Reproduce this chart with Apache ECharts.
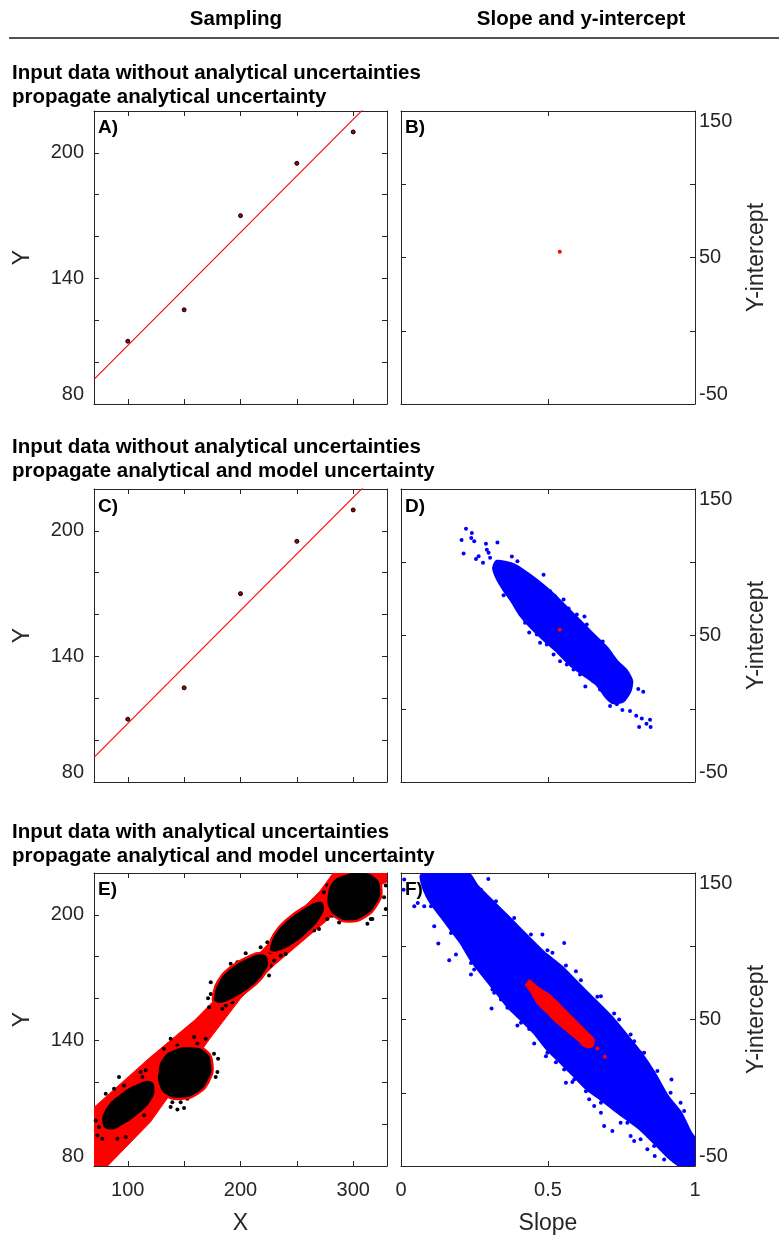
<!DOCTYPE html>
<html>
<head>
<meta charset="utf-8">
<title>Sampling / slope and y-intercept</title>
<script src="https://cdn.jsdelivr.net/npm/echarts@6/dist/echarts.min.js"></script>
<style>
html, body { margin: 0; padding: 0; background: #fff; }
#chart { width: 779px; height: 1242px; }
</style>
</head>
<body>
<div id="chart"></div>
<script>
// ---- ticks ----
var xTicks = [100, 150, 200, 250, 300];
var xTickLabels = [100, 200, 300];
var yTickLabels = [80, 140, 200];
var interceptTickLabels = [-50, 50, 150];

// ---- input data (X, Y) ----
var sampleX = [100, 150, 200, 250, 300];
var sampleY = [110, 125, 170, 195, 210];
// least squares line, slope 0.54 / intercept 54
var fitLine = [[70, 91.8], [330, 232.2]];
var bestFit = [[0.54, 54]];

// ---- panel D: slope / intercept cloud ----
var cloudD = [[0.326, 100.7], [0.383, 98.4], [0.428, 92.7], [0.473, 85.9], [0.519, 77.9], [0.564, 68.9],
    [0.609, 59.8], [0.654, 50.7], [0.700, 41.6], [0.734, 32.5], [0.768, 25.7], [0.785, 18.8], [0.779, 12],
    [0.756, 5.2], [0.722, 4.1], [0.700, 7.5], [0.666, 16.6], [0.620, 23.4], [0.575, 30.2], [0.530, 39.3],
    [0.485, 47.3], [0.439, 56.3], [0.405, 64.3], [0.377, 73.4], [0.349, 81.4], [0.326, 89.3], [0.315, 96.1]];
var outliersD = [[0.221, 122.9], [0.241, 120.0], [0.206, 115.2], [0.239, 116.6], [0.249, 114.3], [0.213, 105.9],
    [0.289, 112.7], [0.328, 113.4], [0.255, 102.3], [0.264, 104.1], [0.279, 99.6], [0.292, 108.6], [0.298, 106.4],
    [0.303, 103], [0.485, 91.4], [0.436, 52], [0.624, 63], [0.686, 45.9], [0.627, 15.2], [0.702, 34.8],
    [0.807, 13.4], [0.824, 11.6], [0.800, -4.7], [0.819, -6.6], [0.847, -7.5], [0.810, -12.5], [0.835, -10.2],
    [0.849, -12.5], [0.753, -0.9], [0.779, -1.6], [0.734, 3], [0.711, 1.8], [0.745, 18.8], [0.768, 17.8],
    [0.377, 104], [0.396, 100.6], [0.405, 78], [0.349, 77.5], [0.570, 68.4], [0.553, 74.5], [0.649, 50.2],
    [0.479, 83.6], [0.507, 80.2], [0.524, 76.8], [0.598, 64.3], [0.632, 57.5], [0.666, 46.1], [0.694, 39.3],
    [0.717, 32.5], [0.728, 25.7], [0.768, 18.8], [0.779, 15.4], [0.377, 75.7], [0.394, 68.9], [0.422, 58.7],
    [0.462, 50.7], [0.473, 45], [0.496, 43.9], [0.519, 37], [0.541, 32.5], [0.564, 30.2], [0.587, 26.8],
    [0.609, 23.4], [0.654, 18.8], [0.677, 13.2]];

// ---- panel E: sampled inputs ----
var ellipse1 = [[76.5, 100.2], [80.4, 108.2], [92.2, 114.5], [107.0, 119.3], [119.7, 121.2], [124.7, 117.7],
    [120.9, 110.5], [109.9, 104.5], [96.6, 99.4], [83.3, 96.9]];
var ellipse2 = [[126.2, 124.9], [130.7, 132.0], [141.0, 136.0], [155.8, 137.3], [169.1, 135.2], [175.0, 128.8],
    [172.1, 120.9], [161.7, 114.5], [146.9, 112.1], [133.6, 113.7], [127.1, 118.5]];
var ellipse3 = [[175.9, 161.5], [179.5, 167.8], [191.3, 175.0], [206.1, 179.7], [219.4, 181.7], [225.3, 178.6],
    [222.4, 172.6], [212.0, 166.2], [197.2, 160.7], [183.9, 157.5], [176.5, 158.3]];
var ellipse4 = [[225.3, 184.5], [229.8, 190.9], [241.6, 198.0], [256.4, 203.6], [269.7, 206.8], [275.0, 204.4],
    [271.2, 198.0], [259.3, 190.9], [246.0, 185.3], [232.7, 182.1], [226.2, 182.4]];
var ellipse5 = [[276.2, 208.4], [280.1, 215.5], [291.9, 219.5], [306.7, 220.6], [320.0, 218.4], [325.0, 212.4],
    [321.5, 205.2], [309.6, 198.8], [296.3, 196.8], [284.5, 198.8], [277.1, 203.6]];
var outliersE = [[71.5, 101.8], [73.0, 94.6], [74.4, 98.6], [77.4, 93.0], [80.4, 114.5], [87.8, 116.9],
    [92.2, 122.5], [96.6, 118.5], [111.4, 124.9], [112.9, 122.5], [115.9, 125.7], [118.8, 118.5], [114.4, 104.2],
    [98.1, 93.8], [90.7, 93.0], [138.0, 108.2], [144.0, 107.0], [149.9, 107.7], [139.5, 110.5], [146.9, 110.5],
    [152.8, 112.1], [132.1, 136.0], [138.0, 140.8], [144.0, 137.6], [158.8, 141.6], [161.7, 138.4], [169.1, 140.8],
    [176.5, 133.6], [180.1, 131.2], [179.5, 124.9], [178.0, 122.5], [170.6, 120.1], [173.6, 162.2], [171.2, 160.2],
    [172.1, 155.9], [183.9, 155.1], [186.9, 156.7], [192.8, 158.3], [173.6, 167.8], [191.3, 176.6], [197.2, 177.4],
    [204.6, 181.7], [217.9, 184.5], [223.8, 186.9], [226.8, 182.1], [229.8, 178.2], [235.7, 180.5], [237.2, 184.5],
    [240.1, 181.3], [225.3, 171.0], [226.8, 175.8], [259.3, 201.2], [265.3, 192.5], [269.7, 193.3], [277.1, 198.0],
    [281.5, 199.6], [287.5, 196.4], [312.6, 195.7], [317.0, 198.0], [327.4, 208.4], [328.9, 214.0], [328.9, 202.8],
    [315.6, 198.0], [274.1, 210.8], [277.1, 214.0]];
// envelope of the fitted lines
var bandUpper = [[70, 108], [120, 132], [160, 150], [200, 172], [240, 195], [270, 211], [285, 222], [331, 225]];
var bandLower = [[331, 216], [300, 208], [265, 192], [230, 176], [200, 160], [173, 141], [120, 101], [82, 80], [70, 73]];

// ---- panel F ----
var cloudF = [[0.079, 150], [0.2265, 150], [0.260, 140.9], [0.317, 129.5], [0.374, 118.2], [0.430, 106.8],
    [0.487, 95.5], [0.544, 86.4], [0.600, 75], [0.657, 63.6], [0.713, 52.3], [0.770, 38.6], [0.815, 27.3],
    [0.861, 13.6], [0.906, -2.3], [0.951, -13.6], [0.985, -27.3], [1.0, -31.8], [1.0, -50], [0.951, -50],
    [0.906, -43.2], [0.861, -34.1], [0.815, -25], [0.770, -18.2], [0.725, -11.4], [0.680, -4.5], [0.634, 2.3],
    [0.589, 11.4], [0.544, 20.5], [0.498, 29.5], [0.453, 40.9], [0.408, 50], [0.362, 59.1], [0.317, 70.5],
    [0.272, 81.8], [0.238, 90.9], [0.204, 102.3], [0.170, 111.4], [0.136, 120.5], [0.102, 129.5], [0.079, 138.6],
    [0.068, 147.7]];
var outliersF = [[0.011, 145.5], [0.009, 138.6], [0.102, 147.7], [0.113, 143.2], [0.079, 127.3], [0.113, 113.6],
    [0.127, 101.8], [0.164, 90.5], [0.187, 94.3], [0.238, 80.7], [0.249, 84.1], [0.311, 70.5], [0.308, 57.5],
    [0.340, 63.6], [0.362, 58], [0.396, 45.9], [0.436, 43.6], [0.453, 33.6], [0.493, 25], [0.527, 20.9],
    [0.555, 15.9], [0.561, 6.8], [0.583, 7.3], [0.629, 1.1], [0.640, -4.5], [0.657, -9.1], [0.680, -13.6],
    [0.691, -22.7], [0.719, -26.1], [0.747, -20.5], [0.781, -29.5], [0.793, -33], [0.815, -31.8], [0.838, -38.6],
    [0.863, -43.2], [0.895, -45.5], [0.917, -42], [0.940, -45.5], [0.974, -40.9], [0.991, -38.6], [0.951, -6.8],
    [0.920, 9.1], [0.883, 4.5], [0.861, 4.5], [0.832, 13.6], [0.815, 27.3], [0.793, 35.2], [0.747, 43.2],
    [0.742, 50], [0.680, 65.9], [0.668, 59.1], [0.617, 69.3], [0.595, 83], [0.555, 102.3], [0.515, 95.5],
    [0.481, 108], [0.453, 101.1], [0.408, 109.1], [0.374, 113.6], [0.357, 120.5], [0.334, 123.9], [0.297, 145.9],
    [0.272, 138.6], [0.243, 134.1], [0.215, 147.7], [0.181, 147.7], [0.057, 129.5], [0.045, 127.3],
    [0.323, 130.7], [0.385, 119.3], [0.442, 108], [0.498, 97.3], [0.561, 86.8], [0.612, 76.8], [0.668, 65.5],
    [0.725, 54.1], [0.781, 39.8], [0.827, 27.3], [0.872, 14.8], [0.917, 0], [0.963, -12.5],
    [0.102, 127.3], [0.170, 109.1], [0.238, 88.6], [0.317, 68.2], [0.408, 47.7], [0.498, 27.3], [0.589, 9.1],
    [0.680, -6.8], [0.770, -20.5], [0.861, -36.4]];
var innerF = [[0.436, 76.8], [0.453, 73.9], [0.476, 70.5], [0.510, 65.9], [0.544, 59.1], [0.578, 52.3],
    [0.612, 45.5], [0.640, 39.8], [0.655, 36.4], [0.651, 31.8], [0.629, 31.4], [0.600, 36.4], [0.566, 42],
    [0.532, 47.7], [0.498, 54.5], [0.464, 61.4], [0.444, 68.2], [0.430, 72.7]];
var innerOutliersF = [[0.693, 24.5], [0.668, 30.2], [0.428, 73.6], [0.44, 75.5], [0.64, 34], [0.62, 33]];

// ---------------------------------------------------------------
var AX = '#262626';
var FONT = 'Liberation Sans, Arial, Helvetica, sans-serif';
var gridPos = [
    {left: 94, top: 111}, {left: 401, top: 111},
    {left: 94, top: 489}, {left: 401, top: 489},
    {left: 94, top: 873}, {left: 401, top: 873}
];

var grids = [], xAxes = [], yAxes = [];
for (var g = 0; g < 6; g++) {
    var col = g % 2, bottomRow = g >= 4;
    grids.push({left: gridPos[g].left, top: gridPos[g].top, width: col ? 294 : 293, height: 293});
    for (var m = 0; m < 2; m++) {
        var isMain = m === 0;
        var x = {
            type: 'value', gridIndex: g, position: isMain ? 'bottom' : 'top',
            splitLine: {show: false},
            axisLine: {onZero: false, lineStyle: {color: AX, width: 1}},
            axisTick: {inside: true, length: 5, lineStyle: {color: AX}},
            axisLabel: {show: isMain && bottomRow, color: AX, fontSize: 20, fontFamily: FONT, margin: 14}
        };
        if (col === 0) {
            x.min = 70; x.max = 330;
            x.axisTick.customValues = xTicks;
            x.axisLabel.customValues = xTickLabels;
            if (isMain && bottomRow) x.name = 'X';
        } else {
            x.min = 0; x.max = 1; x.interval = 0.5;
            if (isMain && bottomRow) x.name = 'Slope';
        }
        if (x.name) {
            x.nameLocation = 'middle';
            x.nameGap = 46;
            x.nameTextStyle = {color: AX, fontSize: 23, fontFamily: FONT};
        }
        xAxes.push(x);

        var y = {
            type: 'value', gridIndex: g,
            splitLine: {show: false},
            axisLine: {onZero: false, lineStyle: {color: AX, width: 1}},
            axisTick: {inside: true, length: 5, lineStyle: {color: AX}},
            axisLabel: {show: isMain, color: AX, fontSize: 20, fontFamily: FONT}
        };
        if (col === 0) {
            y.position = isMain ? 'left' : 'right';
            y.min = 80; y.max = 220; y.interval = 20;
            y.axisLabel.margin = 10;
            y.axisLabel.formatter = function (v) { return yTickLabels.indexOf(v) >= 0 ? String(v) : ''; };
            y.axisLabel.verticalAlignMinLabel = 'bottom';
            if (isMain) { y.name = 'Y'; y.nameGap = 60; }
        } else {
            y.position = isMain ? 'right' : 'left';
            y.min = -50; y.max = 150; y.interval = 50;
            y.axisLabel.margin = 4;
            y.axisLabel.formatter = function (v) { return interceptTickLabels.indexOf(v) >= 0 ? String(v) : ''; };
            y.axisLabel.verticalAlignMinLabel = 'bottom';
            y.axisLabel.verticalAlignMaxLabel = 'top';
            if (isMain) { y.name = 'Y-intercept'; y.nameGap = 50; }
        }
        if (y.name) {
            y.nameLocation = 'middle';
            y.nameRotate = 90;
            y.nameTextStyle = {color: AX, fontSize: 23, fontFamily: FONT};
        }
        yAxes.push(y);
    }
}

function pairs(xs, ys) {
    return xs.map(function (v, i) { return [v, ys[i]]; });
}

function polygon(g, verts, fill, stroke, lineWidth, smooth, z) {
    return {
        type: 'custom', xAxisIndex: 2 * g, yAxisIndex: 2 * g, clip: true, silent: true, z: z,
        data: [verts[0]],
        renderItem: function (params, api) {
            var pts = verts.map(function (v) { return api.coord(v); });
            return {
                type: 'polygon',
                shape: {points: pts, smooth: smooth},
                style: {fill: fill, stroke: stroke, lineWidth: lineWidth}
            };
        }
    };
}

function dots(g, data, color, size, z, border) {
    return {
        type: 'scatter', xAxisIndex: 2 * g, yAxisIndex: 2 * g, silent: true, z: z,
        symbolSize: size, data: data, clip: true,
        itemStyle: border ? {color: color, borderColor: border, borderWidth: 1, opacity: 1}
                          : {color: color, opacity: 1}
    };
}

function fitLineSeries(g) {
    return {
        type: 'line', xAxisIndex: 2 * g, yAxisIndex: 2 * g, data: fitLine, showSymbol: false,
        clip: true, silent: true, z: 3, lineStyle: {color: '#ff0000', width: 1.1}
    };
}

var samples = pairs(sampleX, sampleY);
var ellipses = [ellipse1, ellipse2, ellipse3, ellipse4, ellipse5];

var series = [
    // A
    fitLineSeries(0),
    dots(0, samples, '#a00000', 4, 4, '#000'),
    // B
    dots(1, bestFit, '#ff0000', 4, 4),
    // C
    fitLineSeries(2),
    dots(2, samples, '#a00000', 4, 4, '#000'),
    // D
    polygon(3, cloudD, '#0000ff', '#0000ff', 3, 0.2, 2),
    dots(3, outliersD, '#0000ff', 4, 3),
    dots(3, bestFit, '#ff0000', 4, 5),
    // E
    polygon(4, bandUpper.concat(bandLower), '#ff0000', '#ff0000', 1, 0, 2),
    dots(4, outliersE, '#000000', 4, 4),
    // F
    polygon(5, cloudF, '#0000ff', '#0000ff', 3, 0.2, 2),
    dots(5, outliersF, '#0000ff', 4, 3),
    polygon(5, innerF, '#ff0000', '#ff0000', 2, 0.3, 4),
    dots(5, innerOutliersF, '#ff0000', 4, 5)
];
ellipses.forEach(function (e) {
    series.push(polygon(4, e, '#000000', null, 0, 0.5, 3));
    series.push(polygon(4, e, 'none', '#ff0000', 2.4, 0.5, 5));
});

function text(str, x, y, size, align) {
    return {
        type: 'text', x: x, y: y, silent: true,
        style: {
            text: str, fill: '#000', fontSize: size, fontWeight: 'bold',
            fontFamily: FONT, align: align || 'left', verticalAlign: 'middle', lineHeight: 24
        }
    };
}

var graphics = [
    text('Sampling', 236, 19, 20.5, 'center'),
    text('Slope and y-intercept', 581, 19, 20.5, 'center'),
    {type: 'line', silent: true, shape: {x1: 9, y1: 38, x2: 779, y2: 38}, style: {stroke: '#1a1a1a', lineWidth: 1.6}},
    text('Input data without analytical uncertainties\npropagate analytical uncertainty', 12, 85, 20.5),
    text('Input data without analytical uncertainties\npropagate analytical and model uncertainty', 12, 459, 20.5),
    text('Input data with analytical uncertainties\npropagate analytical and model uncertainty', 12, 844, 20.5),
    text('A)', 98, 128, 19), text('B)', 405, 128, 19),
    text('C)', 98, 507, 19), text('D)', 405, 507, 19),
    text('E)', 98, 890, 19), text('F)', 405, 890, 19)
];

var chart = echarts.init(document.getElementById('chart'), null, {renderer: 'canvas'});
chart.setOption({
    animation: false,
    backgroundColor: '#ffffff',
    grid: grids,
    xAxis: xAxes,
    yAxis: yAxes,
    series: series,
    graphic: graphics
});
</script>
</body>
</html>
